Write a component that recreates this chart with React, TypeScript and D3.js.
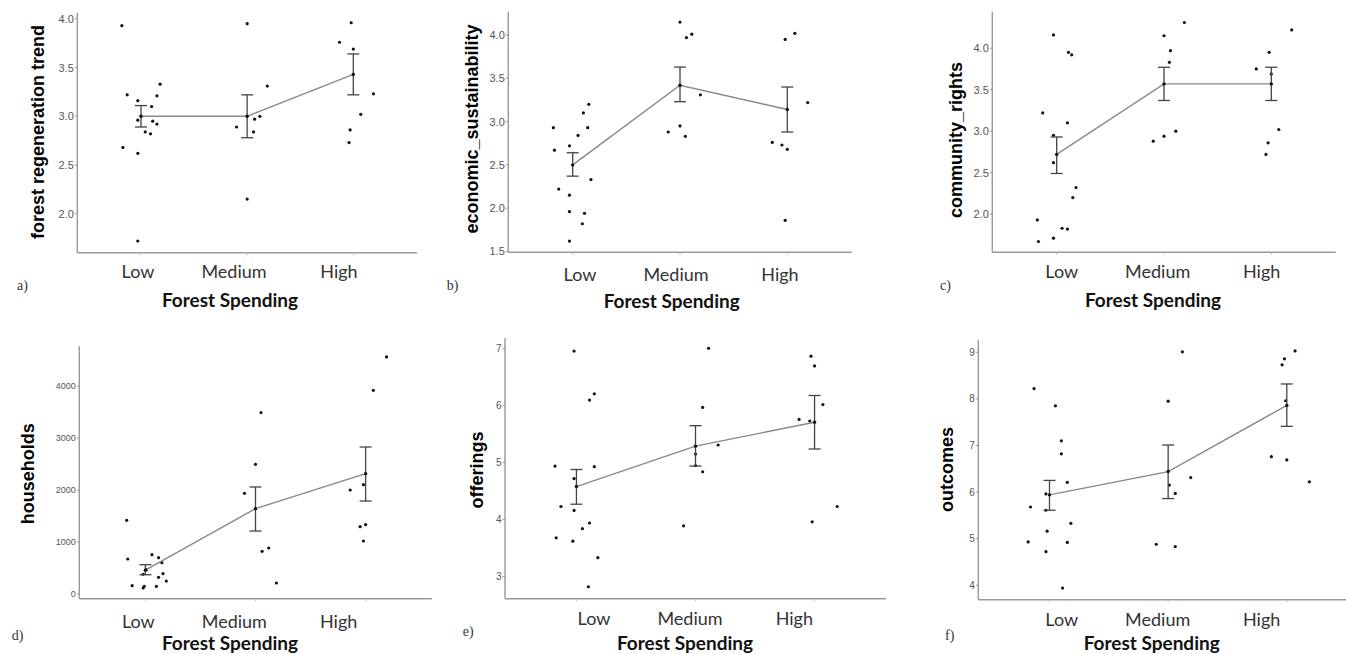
import React from "react";
import * as d3 from "d3";

const categories = ["Low", "Medium", "High"];

// a) forest regeneration trend
const regenValues = [
  [3.93, 3.22, 3.16, 3.10, 3.21, 3.33, 2.96, 2.95, 2.92, 2.84, 2.82, 2.68, 2.62, 1.72],
  [3.95, 3.31, 3.00, 2.97, 2.89, 2.84, 2.15],
  [3.96, 3.76, 3.69, 3.23, 3.02, 2.86, 2.73],
];
const regenJitter = [
  [-0.18, -0.13, -0.03, 0.10, 0.15, 0.18, -0.03, 0.11, 0.15, 0.04, 0.09, -0.17, -0.03, -0.03],
  [0, 0.19, 0.12, 0.07, -0.10, 0.06, 0],
  [-0.02, -0.13, 0, 0.19, 0.07, -0.03, -0.04],
];
const regenMean = [3.0, 3.0, 3.43];
const regenErr = [[2.89, 3.11], [2.78, 3.22], [3.22, 3.64]];
const regenTicks = [2.0, 2.5, 3.0, 3.5, 4.0];

// b) economic_sustainability
const econValues = [
  [2.93, 2.67, 2.72, 2.84, 3.10, 3.20, 2.93, 2.33, 2.22, 2.15, 1.96, 1.94, 1.82, 1.62],
  [4.15, 3.97, 4.01, 3.31, 2.88, 2.95, 2.83],
  [4.02, 3.95, 3.22, 2.76, 2.73, 2.68, 1.86],
];
const econJitter = [
  [-0.18, -0.17, -0.03, 0.05, 0.10, 0.15, 0.14, 0.17, -0.13, -0.03, -0.03, 0.11, 0.09, -0.03],
  [0, 0.06, 0.11, 0.19, -0.11, 0, 0.05],
  [0.07, -0.02, 0.19, -0.14, -0.05, 0, -0.02],
];
const econMean = [2.50, 3.42, 3.14];
const econErr = [[2.37, 2.64], [3.23, 3.63], [2.88, 3.40]];
const econTicks = [1.5, 2.0, 2.5, 3.0, 3.5, 4.0];

// c) community_rights
const rightsValues = [
  [4.16, 3.95, 3.92, 3.22, 3.10, 2.95, 2.62, 2.32, 2.20, 1.93, 1.83, 1.82, 1.71, 1.67],
  [4.31, 4.15, 3.97, 3.83, 3.00, 2.94, 2.88],
  [4.22, 3.95, 3.75, 3.69, 3.02, 2.86, 2.72],
];
const rightsJitter = [
  [-0.03, 0.11, 0.14, -0.13, 0.10, -0.03, -0.03, 0.18, 0.15, -0.18, 0.05, 0.10, -0.03, -0.17],
  [0.19, 0, 0.06, 0.05, 0.11, 0, -0.10],
  [0.19, -0.02, -0.14, 0, 0.07, -0.03, -0.05],
];
const rightsMean = [2.72, 3.57, 3.57];
const rightsErr = [[2.49, 2.93], [3.37, 3.77], [3.37, 3.77]];
const rightsTicks = [2.0, 2.5, 3.0, 3.5, 4.0];

// d) households
const householdValues = [
  [1419, 674, 758, 700, 604, 469, 379, 392, 321, 250, 161, 148, 148, 116],
  [3493, 2498, 1939, 886, 822, 212],
  [4565, 3923, 2106, 2003, 1335, 1297, 1021],
];
const householdJitter = [
  [-0.17, -0.16, 0.06, 0.12, 0.15, 0.01, -0.02, 0.16, 0.12, 0.19, -0.12, -0.01, 0.10, -0.02],
  [0.05, 0, -0.10, 0.12, 0.06, 0.19],
  [0.19, 0.07, -0.02, -0.14, 0, -0.05, -0.02],
];
const householdMean = [460, 1644, 2318];
const householdErr = [[372, 565], [1213, 2061], [1791, 2831]];
const householdTicks = [0, 1000, 2000, 3000, 4000];

// e) offerings
const offeringValues = [
  [6.96, 6.10, 6.21, 4.94, 4.93, 4.72, 4.23, 4.16, 3.94, 3.84, 3.68, 3.62, 3.33, 2.82],
  [7.01, 5.97, 5.31, 5.15, 4.95, 4.84, 3.89],
  [6.87, 6.70, 6.02, 5.76, 5.73, 4.23, 3.96],
];
const offeringJitter = [
  [-0.02, 0.11, 0.15, -0.18, 0.15, -0.02, -0.13, -0.02, 0.11, 0.05, -0.17, -0.03, 0.18, 0.10],
  [0.11, 0.06, 0.19, 0, 0, 0.06, -0.10],
  [-0.03, 0, 0.07, -0.13, -0.04, 0.19, -0.02],
];
const offeringMean = [4.58, 5.29, 5.71];
const offeringErr = [[4.27, 4.88], [4.94, 5.65], [5.24, 6.18]];
const offeringTicks = [3, 4, 5, 6, 7];

// f) outcomes
const outcomeValues = [
  [8.22, 7.85, 7.10, 6.82, 6.21, 5.96, 5.68, 5.61, 5.33, 5.16, 4.93, 4.92, 4.72, 3.94],
  [9.01, 7.95, 6.31, 6.15, 5.97, 4.88, 4.83],
  [9.03, 8.86, 8.73, 7.96, 6.76, 6.69, 6.22],
];
const outcomeJitter = [
  [-0.13, 0.05, 0.10, 0.10, 0.15, -0.03, -0.16, -0.03, 0.18, -0.02, -0.18, 0.15, -0.03, 0.11],
  [0.12, 0, 0.19, 0.01, 0.06, -0.10, 0.06],
  [0.07, -0.02, -0.04, -0.01, -0.13, 0, 0.19],
];
const outcomeMean = [5.94, 6.44, 7.86];
const outcomeErr = [[5.61, 6.25], [5.86, 7.01], [7.41, 8.32]];
const outcomeTicks = [4, 5, 6, 7, 8, 9];

const yTitles = ["forest regeneration trend", "economic_sustainability", "community_rights", "households", "offerings", "outcomes"];
const panelLetters = ["a)", "b)", "c)", "d)", "e)", "f)"];
const xTitle = "Forest Spending";

const panels = [
  { values: regenValues, jitter: regenJitter, mean: regenMean, err: regenErr, ticks: regenTicks, fmt: ".1f", domain: [1.60, 4.06] },
  { values: econValues, jitter: econJitter, mean: econMean, err: econErr, ticks: econTicks, fmt: ".1f", domain: [1.49, 4.27] },
  { values: rightsValues, jitter: rightsJitter, mean: rightsMean, err: rightsErr, ticks: rightsTicks, fmt: ".1f", domain: [1.54, 4.44] },
  { values: householdValues, jitter: householdJitter, mean: householdMean, err: householdErr, ticks: householdTicks, fmt: "d", domain: [-90, 4770] },
  { values: offeringValues, jitter: offeringJitter, mean: offeringMean, err: offeringErr, ticks: offeringTicks, fmt: "d", domain: [2.61, 7.19] },
  { values: outcomeValues, jitter: outcomeJitter, mean: outcomeMean, err: outcomeErr, ticks: outcomeTicks, fmt: "d", domain: [3.69, 9.27] },
];

// layout (positions only)
const layouts = [
  { ax: 77.3, top: 13, bottom: 252.7, right: 417, tickFs: 11, yt: [38, 132], cl: [138, 234, 339], cb: 278, xt: [230, 306.7], lt: [17, 290] },
  { ax: 508.3, top: 11.7, bottom: 252.3, right: 851.7, tickFs: 11, yt: [471.7, 129], cl: [580, 676, 780], cb: 281, xt: [671.7, 308], lt: [446.7, 290] },
  { ax: 992.3, top: 11.7, bottom: 252.3, right: 1335.7, tickFs: 11, yt: [956, 140], cl: [1061.7, 1157.7, 1261.7], cb: 278, xt: [1153, 306.7], lt: [940, 290] },
  { ax: 79.3, top: 346.3, bottom: 598.7, right: 431.7, tickFs: 9, yt: [27.5, 473.7], cl: [138.3, 234.3, 338.7], cb: 628, xt: [230, 649.5], lt: [11.7, 640] },
  { ax: 505, top: 338, bottom: 598.7, right: 886, tickFs: 10, yt: [476.7, 470], cl: [594, 690, 794.3], cb: 625.3, xt: [685, 649.5], lt: [462.7, 636.3] },
  { ax: 978.3, top: 339.7, bottom: 599.7, right: 1358, tickFs: 10, yt: [946.7, 469.5], cl: [1061.7, 1157.7, 1261.7], cb: 626.3, xt: [1151.7, 649.5], lt: [945, 639.7] },
];

function Panel({ idx }: { idx: number }) {
  const p = panels[idx];
  const L = layouts[idx];
  const x = d3.scalePoint<string>().domain(categories).range([L.ax, L.right]).padding(0.6);
  const step = x.step();
  const y = d3.scaleLinear().domain(p.domain).range([L.bottom, L.top]);
  const fmt = d3.format(p.fmt);
  const line = d3
    .line<number>()
    .x((_, i) => x(categories[i]) as number)
    .y((d) => y(d));
  const capHalf = 6;
  return (
    <g>
      <line x1={L.ax} x2={L.ax} y1={L.top} y2={L.bottom} stroke="#999" strokeWidth={1.4} />
      <line x1={L.ax} x2={L.right} y1={L.bottom} y2={L.bottom} stroke="#999" strokeWidth={1.4} />
      {p.ticks.map((t) => (
        <g key={t}>
          <line x1={L.ax - 2.5} x2={L.ax} y1={y(t)} y2={y(t)} stroke="#999" strokeWidth={1} />
          <text
            x={L.ax - 3.5}
            y={y(t)}
            textAnchor="end"
            dominantBaseline="central"
            fontFamily="Liberation Sans, Arial, sans-serif"
            fontSize={L.tickFs}
            fill="#555"
          >
            {fmt(t)}
          </text>
        </g>
      ))}
      {categories.map((c) => (
        <line key={c} x1={x(c)} x2={x(c)} y1={L.bottom} y2={L.bottom + 2.5} stroke="#bbb" strokeWidth={1} />
      ))}
      {p.values.map((grp, gi) =>
        grp.map((v, i) => (
          <circle key={gi + "-" + i} cx={(x(categories[gi]) as number) + p.jitter[gi][i] * step} cy={y(v)} r={1.6} fill="#111" />
        ))
      )}
      <path d={line(p.mean) || ""} fill="none" stroke="#888" strokeWidth={1.4} />
      {p.err.map(([lo, hi], gi) => {
        const cx = x(categories[gi]) as number;
        return (
          <g key={"e" + gi} stroke="#444" strokeWidth={1.3}>
            <line x1={cx} x2={cx} y1={y(lo)} y2={y(hi)} />
            <line x1={cx - capHalf} x2={cx + capHalf} y1={y(lo)} y2={y(lo)} />
            <line x1={cx - capHalf} x2={cx + capHalf} y1={y(hi)} y2={y(hi)} />
          </g>
        );
      })}
      {p.mean.map((m, gi) => (
        <circle key={"m" + gi} cx={x(categories[gi]) as number} cy={y(m)} r={1.7} fill="#111" />
      ))}
      <text
        transform={`translate(${L.yt[0]},${L.yt[1]}) rotate(-90)`}
        textAnchor="middle"
        dominantBaseline="central"
        fontFamily="Liberation Sans, Arial, sans-serif"
        fontWeight="bold"
        fontSize={18}
        fill="#000"
      >
        {yTitles[idx]}
      </text>
      {categories.map((c, i) => (
        <text key={"cl" + c} x={L.cl[i]} y={L.cb} textAnchor="middle" fontFamily="Lato, sans-serif" fontSize={18} fill="#333">
          {c}
        </text>
      ))}
      <text x={L.xt[0]} y={L.xt[1]} textAnchor="middle" fontFamily="Lato, sans-serif" fontWeight="bold" fontSize={19} fill="#111">
        {xTitle}
      </text>
      <text x={L.lt[0]} y={L.lt[1]} fontFamily="Liberation Serif, serif" fontSize={14} fill="#333">
        {panelLetters[idx]}
      </text>
    </g>
  );
}

export default function App() {
  return (
    <svg width={1346} height={654} style={{ position: "absolute", left: 0, top: 0, background: "#fff" }}>
      <rect x={0} y={0} width={1346} height={654} fill="#fff" />
      {panels.map((_, i) => (
        <Panel key={i} idx={i} />
      ))}
    </svg>
  );
}
